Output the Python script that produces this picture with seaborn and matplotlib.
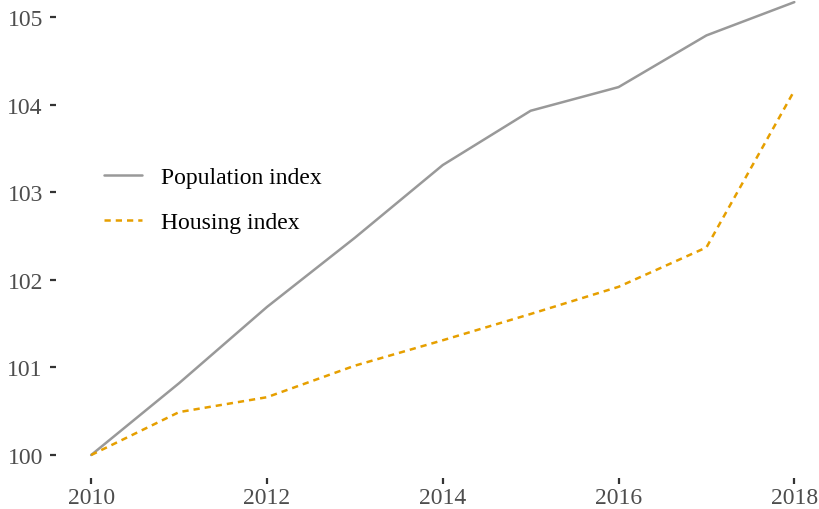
import pandas as pd
import matplotlib.pyplot as plt
import seaborn as sns

# Values
years = [2010, 2011, 2012, 2013, 2014, 2015, 2016, 2017, 2018]
population = [100.0, 100.82, 101.69, 102.48, 103.31, 103.93, 104.20, 104.79, 105.17]
housing = [100.0, 100.49, 100.66, 101.02, 101.31, 101.61, 101.92, 102.37, 104.16]
series_names = ['Population index', 'Housing index']
x_ticks = [2010, 2012, 2014, 2016, 2018]
y_ticks = [100, 101, 102, 103, 104, 105]

df = pd.DataFrame({
    'year': years * 2,
    'value': population + housing,
    'series': [series_names[0]] * len(years) + [series_names[1]] * len(years),
})

sns.set_style('white')
plt.rcParams['font.family'] = ['Liberation Serif', 'DejaVu Serif']

fig = plt.figure(figsize=(8.2, 5.1), dpi=100)
ax = fig.add_axes([56 / 820, 1 - 478.8 / 510, 764.7 / 820, 478.3 / 510])

sns.lineplot(data=df, x='year', y='value', hue='series', style='series',
             palette={series_names[0]: '#999999', series_names[1]: '#E69F00'},
             dashes={series_names[0]: '', series_names[1]: (2.5, 2)},
             linewidth=1.8, ax=ax)

ax.set_xlim(2009.6, 2018.3)
ax.set_ylim(99.74, 105.2)
ax.set_xticks(x_ticks)
ax.set_yticks(y_ticks)
ax.set_xlabel('')
ax.set_ylabel('')
for s in ax.spines.values():
    s.set_visible(False)
ax.tick_params(axis='both', which='major', length=4.5, width=1.6,
               color='#333333', labelcolor='#4D4D4D', labelsize=17, pad=5,
               bottom=True, left=True)
ax.tick_params(axis='x', pad=2)

handles, labels = ax.get_legend_handles_labels()
leg = ax.legend(handles, labels, loc='center left',
                bbox_to_anchor=(104 / 820, 1 - 201 / 510),
                bbox_transform=fig.transFigure, frameon=False, fontsize=17,
                borderpad=0, borderaxespad=0, handlelength=1.6, handletextpad=0.8,
                labelspacing=1.0)
for t in leg.get_texts():
    t.set_color('black')

fig.savefig('out.png', dpi=100)
